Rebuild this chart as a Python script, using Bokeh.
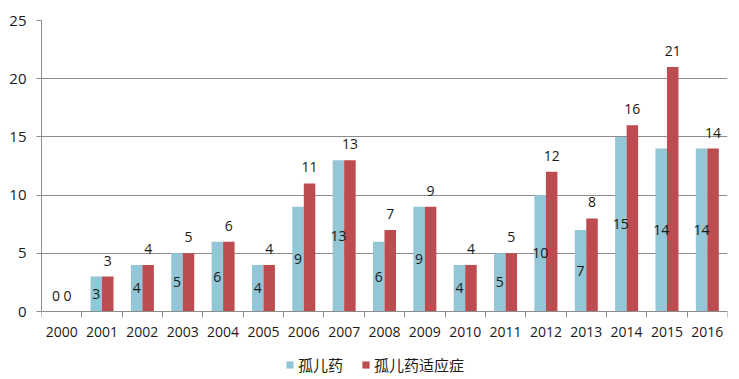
import numpy as np
from bokeh.plotting import figure
from bokeh.models import ColumnDataSource, FixedTicker, Range1d, Legend, LegendItem
from bokeh.core.properties import value
from bokeh.embed import file_html
from bokeh.resources import INLINE

years = ["2000", "2001", "2002", "2003", "2004", "2005", "2006", "2007", "2008",
         "2009", "2010", "2011", "2012", "2013", "2014", "2015", "2016"]
orphan_drugs = [0, 3, 4, 5, 6, 4, 9, 13, 6, 9, 4, 5, 10, 7, 15, 14, 14]
orphan_indications = [0, 3, 4, 5, 6, 4, 11, 13, 7, 9, 4, 5, 12, 8, 16, 21, 14]
series_names = ["孤儿药", "孤儿药适应症"]
y_ticks = [0, 5, 10, 15, 20, 25]

BLUE = "#93c6d6"
RED = "#bd4c50"
NUM_FONT = "Open Sans"
CJK_FONT = "Noto Sans CJK SC"

# layout (pixels)
W, H = 735, 379
TOP, LEFT, RIGHT = 20, 41, 8
PLOT_PX = 291          # pixel height from 0 to 25
BELOW_PX = H - TOP - PLOT_PX   # frame extends below zero to host axis labels + legend
y_max = max(y_ticks)
y_min = -y_max * BELOW_PX / PLOT_PX

n = len(years)
idx = np.arange(n)
centers = idx + 0.5
bw = 0.285
a = np.array(orphan_drugs, dtype=float)
b = np.array(orphan_indications, dtype=float)

src = ColumnDataSource(dict(
    xa=centers - bw / 2, xb=centers + bw / 2, a=a, b=b,
    a_lab=[str(int(v)) for v in a], b_lab=[str(int(v)) for v in b],
    a_y=np.where(a > 0, a / 2, a), a_off=np.where(a > 0, 0, -16),
))

p = figure(width=W, height=H, output_backend="svg", toolbar_location=None,
           x_range=Range1d(0, n), y_range=Range1d(y_min, y_max),
           min_border_left=LEFT, min_border_right=RIGHT, min_border_top=TOP, min_border_bottom=0)
p.outline_line_color = None
p.background_fill_color = "white"

ra = p.vbar(x="xa", top="a", width=bw, bottom=0, source=src, fill_color=BLUE, line_color=None)
rb = p.vbar(x="xb", top="b", width=bw, bottom=0, source=src, fill_color=RED, line_color=None)

p.text(x="xa", y="a_y", text="a_lab", source=src, text_align="center", text_baseline="middle",
       y_offset="a_off", text_font=value(NUM_FONT), text_font_size="14px", text_color="#1a1a1a")
p.text(x="xb", y="b", text="b_lab", source=src, text_align="center", text_baseline="middle",
       y_offset=-16, text_font=value(NUM_FONT), text_font_size="14px", text_color="#1a1a1a")

# x axis drawn at y = 0 inside the frame
p.xaxis.fixed_location = 0
p.xaxis.ticker = FixedTicker(ticks=list(centers), minor_ticks=list(np.arange(n + 1)))
p.xaxis.major_label_overrides = {float(c): y for c, y in zip(centers, years)}
p.xaxis.major_tick_out = 0
p.xaxis.major_tick_in = 0
p.xaxis.minor_tick_out = 6
p.xaxis.minor_tick_in = 0
p.xaxis.minor_tick_line_color = "#8c8c8c"
p.xaxis.axis_line_color = "#8c8c8c"
p.xaxis.major_label_standoff = 9
p.xaxis.major_label_text_font = NUM_FONT
p.xaxis.major_label_text_font_size = "14px"
p.xaxis.major_label_text_color = "#1a1a1a"

# y axis
p.yaxis.ticker = FixedTicker(ticks=y_ticks)
p.yaxis.bounds = (0, y_max)
p.yaxis.major_tick_out = 5
p.yaxis.major_tick_in = 0
p.yaxis.minor_tick_line_color = None
p.yaxis.major_tick_line_color = "#8c8c8c"
p.yaxis.axis_line_color = "#8c8c8c"
p.yaxis.major_label_standoff = 10
p.yaxis.major_label_text_font = NUM_FONT
p.yaxis.major_label_text_font_size = "15px"
p.yaxis.major_label_text_color = "#1a1a1a"

p.xgrid.grid_line_color = None
p.ygrid.ticker = FixedTicker(ticks=y_ticks)
p.ygrid.grid_line_color = "#8c8c8c"
p.ygrid.grid_line_width = 1

legend = Legend(items=[LegendItem(label=series_names[0], renderers=[ra]),
                       LegendItem(label=series_names[1], renderers=[rb])],
                orientation="horizontal", location=(244, 4),
                glyph_width=9, glyph_height=9, label_text_font=CJK_FONT,
                label_text_font_size="15px", label_text_color="#1a1a1a",
                spacing=18, padding=0, margin=0, border_line_color=None,
                background_fill_alpha=0, label_standoff=4, label_height=18)
p.add_layout(legend, "center")

open("out.html", "w").write(file_html(p, INLINE))
